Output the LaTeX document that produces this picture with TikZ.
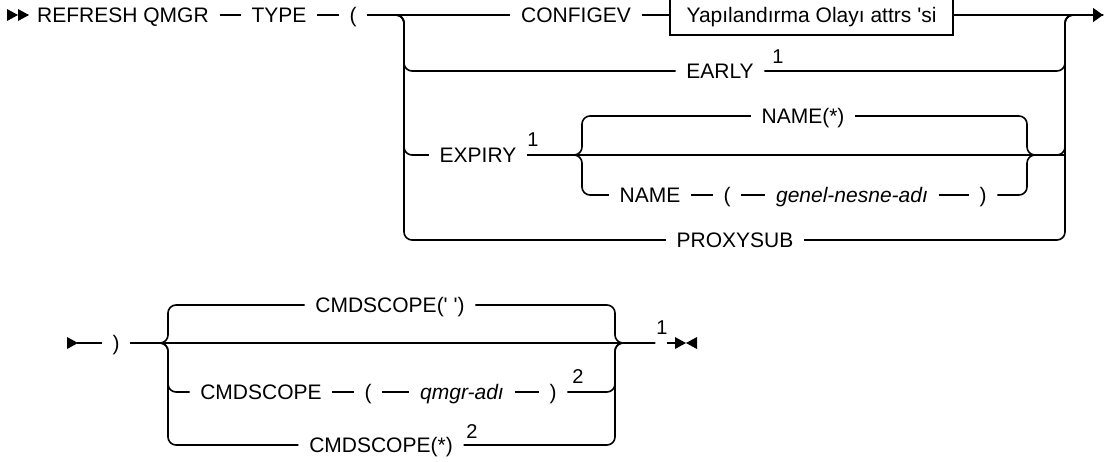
\documentclass[tikz,border=0pt]{standalone}
\usepackage{fontspec}
\setmainfont{Liberation Sans}[Ligatures=TeXOff]
\usetikzlibrary{arrows.meta}
\begin{document}
\begin{tikzpicture}[x=1pt,y=-1pt,line width=1.6pt,
  t/.style={inner xsep=10pt,inner ysep=0pt,text height=15pt,text depth=0pt,font=\fontsize{21}{24}\selectfont},
  ti/.style={t,font=\fontsize{21}{24}\selectfont\itshape},
  sup/.style={inner sep=0pt,font=\fontsize{20}{22}\selectfont},
  rc/.style={rounded corners=8pt},
  boxed/.style={t,draw,line width=1.2pt,minimum width=283pt,minimum height=40pt,inner xsep=8pt}]
\useasboundingbox (0,0) rectangle (1105,461);
% ---------- row 1 ----------
\fill (7,9) -- (7,21) -- (18,15) -- cycle;
\fill (18,9) -- (18,21) -- (29,15) -- cycle;
\coordinate (s1) at (28,15);
\node[t] (refresh) at (123,15) {REFRESH QMGR};
\node[t] (type) at (279,15) {TYPE};
\node[t] (lp1) at (353,15) {(};
\node[t] (configev) at (576,15) {CONFIGEV};
\node[boxed] (attrs) at (811.5,15) {Yapılandırma Olayı attrs 'si};
\node[t] (early) at (720,71) {EARLY};
\node[sup] (n1a) at (778,57) {1};
\node[t] (expiry) at (478,155) {EXPIRY};
\node[sup] (n1b) at (533,140) {1};
\node[t] (namestar) at (803,116) {NAME(*)};
\node[t] (name) at (650,195) {NAME};
\node[t] (lp2) at (727,195) {(};
\node[ti] (gna) at (852,195) {genel-nesne-adı};
\node[t] (rp2) at (983,195) {)};
\node[t] (proxy) at (735,240) {PROXYSUB};
\coordinate (jL) at (404,15);
\coordinate (jR) at (1065,15);
\coordinate (jR155) at (1065,155);
\coordinate (iL) at (582,155);
\coordinate (iR) at (1027,155);
\coordinate (e1) at (1103,15);

\draw (s1) -- (refresh);
\draw (refresh) -- (type);
\draw (type) -- (lp1);
\draw (lp1) -- (configev);
\draw (configev) -- (attrs);
\draw[-{Triangle[length=10pt,width=14pt]}] (attrs) -- (e1);
\draw[rc] (lp1.east) -- (jL) |- (early.west);
\draw[rc] (lp1.east) -- (jL) |- (expiry.west);
\draw[rc] (lp1.east) -- (jL) |- (proxy.west);
\draw[rc] (early.east) -| (jR) -- (e1);
\draw[rc] (expiry.east) -| (jR) -- (e1);
\draw[rc] (proxy.east) -| (jR) -- (e1);
% inner choice
\draw[rc] (expiry.east) -- (iL) |- (namestar.west);
\draw[rc] (expiry.east) -- (iL) |- (name.west);
\draw[rc] (namestar.east) -| (iR) -- (jR155);
\draw[rc] (rp2.east) -| (iR) -- (jR155);
\draw (name) -- (lp2);
\draw (lp2) -- (gna);
\draw (gna) -- (rp2);
% ---------- row 2 ----------
\fill (67,337) -- (67,349) -- (78,343) -- cycle;
\coordinate (s2) at (77,343);
\node[t] (rp3) at (116,343) {)};
\node[t] (cs1) at (390,305) {CMDSCOPE(' ')};
\node[t] (cs2) at (261,392) {CMDSCOPE};
\node[t] (lp3) at (368,392) {(};
\node[ti] (qm) at (462,392) {qmgr-adı};
\node[t] (rp4) at (553,392) {)};
\node[sup] (n2a) at (578,377) {2};
\node[t] (cs3) at (381,445) {CMDSCOPE(*)};
\node[sup] (n2b) at (472,432) {2};
\node[sup] (n1c) at (662,328) {1};
\coordinate (cL) at (168,343);
\coordinate (cR) at (615,343);
\coordinate (gL) at (655,343);
\coordinate (gR) at (667,343);
\coordinate (e2) at (676,343);
\draw (s2) -- (rp3);
\draw (rp3) -- (gL);
\draw (gR) -- (e2);
\draw[rc] (rp3.east) -- (cL) |- (cs1.west);
\draw[rc] (rp3.east) -- (cL) |- (cs2.west);
\draw[rc] (rp3.east) -- (cL) |- (cs3.west);
\draw[rc] (cs1.east) -| (cR) -- (gL);
\draw[rc] (rp4.east) -| (cR) -- (gL);
\draw[rc] (cs3.east) -| (cR) -- (gL);
\draw (cs2) -- (lp3);
\draw (lp3) -- (qm);
\draw (qm) -- (rp4);
\fill (675,337) -- (675,349) -- (686,343) -- cycle;
\fill (697,337) -- (697,349) -- (686,343) -- cycle;
\end{tikzpicture}
\end{document}
